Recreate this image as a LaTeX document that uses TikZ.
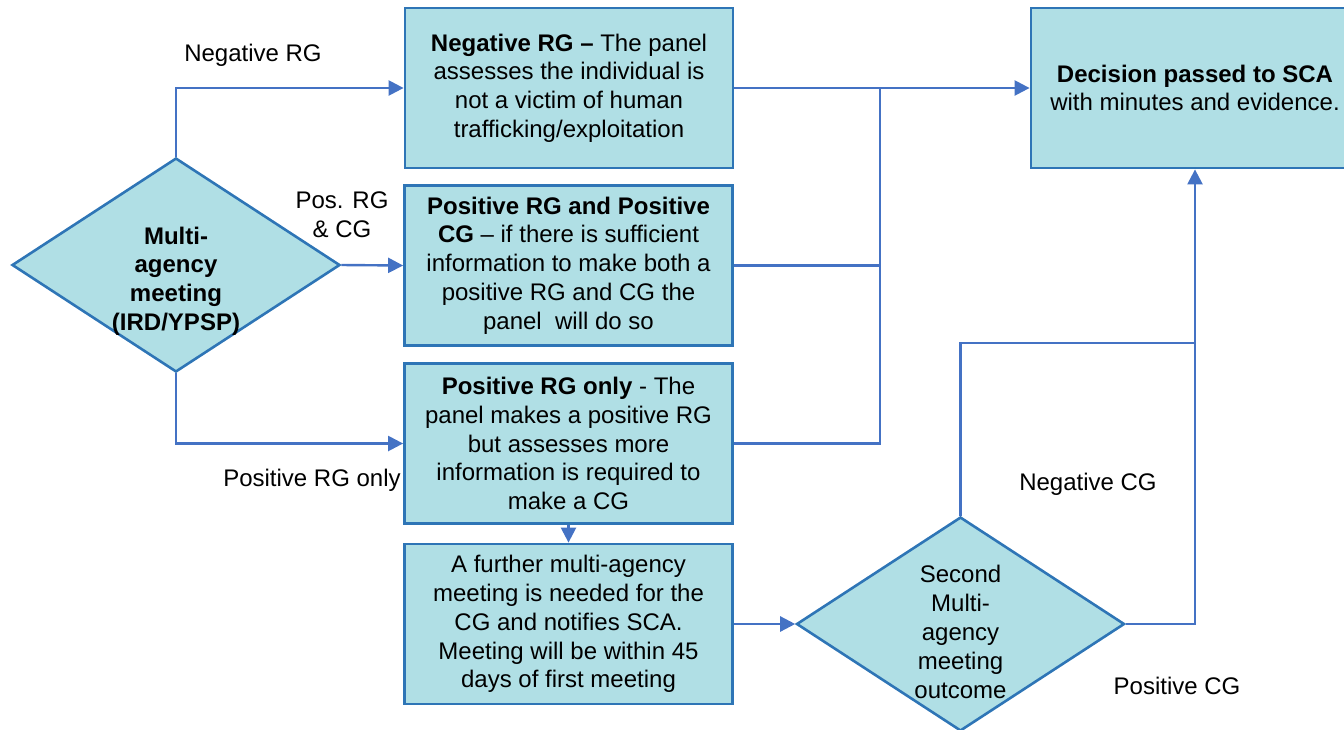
\documentclass[tikz,border=0pt]{standalone}
\usepackage{fontspec}
\setmainfont{Liberation Sans}
\usetikzlibrary{shapes.geometric,arrows.meta}
\definecolor{boxfill}{HTML}{B0DFE5}
\definecolor{boxline}{HTML}{2E75B6}
\definecolor{conline}{HTML}{4472C4}
\tikzset{
  box/.style={draw=boxline,fill=boxfill,line width=1.4pt,minimum width=164pt,minimum height=80pt,inner sep=0pt,align=center,font=\fontsize{12}{14.4}\selectfont},
  dia/.style={draw=boxline,fill=boxfill,line width=1.3pt,diamond,minimum width=164pt,minimum height=107pt,inner sep=0pt},
  diatext/.style={align=center,font=\fontsize{12}{14.4}\selectfont},
  lab/.style={align=center,font=\fontsize{12}{14.4}\selectfont},
  conline/.style={draw=conline,line width=1.2pt},
  conn/.style={conline,-{Triangle[length=7.5pt,width=7.5pt]}}
}
\begin{document}
\begin{tikzpicture}[x=0.5pt,y=-0.5pt]
\useasboundingbox (0,0) rectangle (1344,729);
\clip (0,0) rectangle (1344,729);
% nodes
\node[dia] (d1) at (176,265) {};
\node[diatext,font=\fontsize{12}{14.4}\selectfont\bfseries] (d1t) at (176,281) {Multi-\\agency\\meeting\\(IRD/YPSP)};
\node[box] (b1) at (569,88) {\textbf{Negative RG –} The panel\\assesses the individual is\\not a victim of human\\trafficking/exploitation};
\node[box] (b2) at (568.5,265.5) {\textbf{Positive RG and Positive}\\\textbf{CG} – if there is sufficient\\information to make both a\\positive RG and CG the\\panel\ \ will do so};
\node[box] (b3) at (568.5,443.5) {\textbf{Positive RG only} - The\\panel makes a positive RG\\but assesses more\\information is required to\\make a CG};
\node[box] (b4) at (568.5,624) {A further multi-agency\\meeting is needed for the\\CG and notifies SCA.\\Meeting will be within 45\\days of first meeting};
\node[box] (dec) at (1195,88) {\textbf{Decision passed to SCA}\\with minutes and evidence.};
\node[dia] (d2) at (960.5,624) {};
\node[diatext] (d2t) at (960.5,632) {Second\\Multi-\\agency\\meeting\\outcome};
% labels
\node[lab] (l1) at (253,55) {Negative RG};
\node[lab] (l2) at (342,215) {Pos. RG\\\& CG};
\node[lab] (l3) at (312,480) {Positive RG only};
\node[lab] (l4) at (1088,484) {Negative CG};
\node[lab] (l5) at (1177,686) {Positive CG};
% junctions
\coordinate (j1) at (880,88);
\coordinate (j2) at (1195,343);
% connectors
\draw[conn] (d1.north) |- (b1.west);
\draw[conn] (d1.east) -- (b2.west);
\draw[conn] (d1.south) |- (b3.west);
\draw[conn] (b1.east) -- (dec.west);
\draw[conline] (b3.east) -| (j1);
\draw[conline] (b2.east) -- (b2.east -| j1);
\draw[conn] (b3.south) -- (b4.north);
\draw[conn] (b4.east) -- (d2.west);
\draw[conline] (d2.north) |- (j2);
\draw[conn] (d2.east) -| (dec.south);
\end{tikzpicture}
\end{document}
